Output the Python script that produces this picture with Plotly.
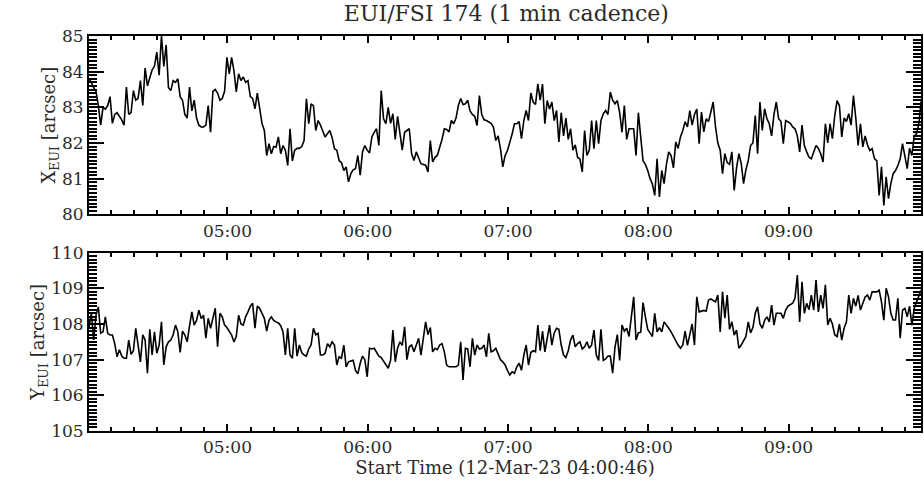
import pandas as pd
import plotly.graph_objects as go
from plotly.subplots import make_subplots

# Solar Orbiter EUI/FSI 174 pointing, one sample per minute from 04:00:46
START = "2023-03-12 04:00:46"
END = "2023-03-12 09:56:40"

x_eui = [
    83.80, 83.70, 83.55, 83.45, 83.05, 82.50, 83.00, 82.95, 83.05, 83.30,
    82.55, 82.80, 82.85, 82.75, 82.65, 82.50, 83.57, 82.80, 82.85, 83.47,
    83.20, 83.25, 83.75, 83.05, 84.10, 83.60, 83.85, 84.05, 84.15, 84.55,
    83.90, 85.00, 84.15, 84.75, 83.55, 83.47, 83.75, 83.70, 83.80, 83.30,
    83.20, 82.80, 82.70, 83.57, 82.90, 83.20, 82.70, 82.50, 82.45, 82.45,
    82.50, 83.05, 82.30, 83.45, 83.50, 83.40, 83.20, 83.25, 83.45, 84.40,
    83.94, 84.40, 84.03, 83.43, 83.94, 83.75, 83.85, 83.70, 83.75, 83.30,
    83.25, 82.96, 83.40, 82.91, 82.55, 82.35, 81.65, 81.98, 81.70, 81.90,
    81.88, 82.17, 81.70, 81.93, 81.80, 81.37, 82.40, 81.50, 81.80, 81.85,
    81.85, 81.90, 82.07, 83.24, 82.54, 83.10, 83.05, 82.35, 82.63, 82.50,
    82.35, 82.17, 82.26, 82.35, 82.15, 81.84, 81.80, 81.51, 81.45, 81.23,
    81.33, 80.91, 81.14, 81.25, 81.28, 81.65, 81.10, 81.75, 81.93, 81.80,
    81.72, 82.17, 82.30, 82.40, 81.93, 83.47, 82.68, 82.54, 83.00, 82.55,
    82.82, 82.10, 82.75, 82.26, 81.80, 82.30, 82.35, 82.40, 81.70, 81.51,
    81.75, 81.60, 81.42, 81.40, 81.38, 81.19, 82.07, 81.47, 81.60, 81.65,
    81.85, 82.10, 82.40, 82.38, 82.31, 82.63, 82.54, 82.70, 83.05, 83.25,
    83.08, 83.10, 83.20, 82.90, 82.80, 82.75, 82.49, 83.33, 82.80, 82.65,
    82.63, 82.60, 82.55, 82.45, 82.07, 82.20, 81.84, 81.33, 81.65, 81.79,
    82.00, 82.25, 82.54, 82.54, 82.60, 82.12, 82.63, 82.91, 82.63, 83.40,
    83.15, 83.08, 83.66, 83.20, 83.65, 82.54, 83.19, 82.95, 83.15, 82.63,
    82.91, 82.03, 82.85, 82.20, 82.70, 82.10, 82.40, 81.80, 81.95, 81.60,
    81.55, 81.19, 82.35, 81.65, 81.80, 82.63, 81.84, 82.63, 81.98, 82.63,
    82.82, 82.91, 82.80, 83.43, 83.20, 83.10, 83.19, 82.85, 82.30, 83.05,
    82.10, 82.40, 82.40, 82.40, 81.65, 82.85, 82.17, 81.50, 81.40, 81.23,
    81.00, 80.85, 80.53, 81.56, 80.49, 81.23, 80.86, 81.40, 81.75, 81.65,
    81.30, 82.03, 81.85, 82.17, 82.35, 82.60, 82.45, 82.91, 82.50, 82.80,
    82.95, 81.98, 82.87, 82.31, 82.68, 82.60, 82.87, 83.15, 82.45, 82.00,
    81.80, 81.14, 81.70, 81.45, 81.40, 81.75, 80.67, 81.30, 81.70, 81.42,
    80.86, 81.25, 81.50, 81.93, 82.00, 82.77, 81.70, 83.15, 82.35, 82.96,
    82.68, 82.54, 82.20, 82.80, 83.15, 82.68, 82.60, 81.98, 82.63, 82.60,
    82.55, 82.45, 82.40, 82.20, 81.75, 82.50, 81.93, 81.75, 81.60, 81.56,
    81.75, 81.93, 81.85, 81.70, 81.47, 82.54, 82.00, 82.54, 82.12, 82.77,
    83.19, 83.05, 82.17, 82.70, 82.60, 82.82, 82.50, 83.33, 82.70, 81.93,
    82.54, 81.89, 82.20, 81.95, 81.79, 81.84, 81.56, 81.50, 80.53, 81.33,
    80.25, 81.05, 80.44, 80.86, 81.14, 81.23, 81.37, 81.56, 81.98, 81.61,
    81.28, 81.85, 81.65, 82.20, 82.26, 82.55, 83.20,
]

y_eui = [
    107.90, 108.30, 107.55, 108.25, 108.48, 107.74, 107.78, 108.20, 107.74, 107.69,
    107.69, 107.45, 107.08, 107.28, 107.10, 107.04, 107.04, 107.55, 107.15, 107.25,
    107.88, 107.45, 106.94, 107.70, 107.55, 106.62, 107.85, 107.13, 107.78, 107.18,
    107.41, 108.06, 106.85, 107.36, 107.50, 107.55, 107.70, 107.97, 107.78, 107.20,
    107.80, 107.69, 107.50, 107.95, 108.34, 107.97, 108.10, 108.39, 108.15, 108.25,
    107.60, 108.16, 107.88, 108.16, 108.44, 107.36, 108.30, 108.20, 107.97, 107.90,
    107.80, 107.69, 107.50, 107.65, 108.25, 108.00, 107.97, 108.20, 108.34, 108.50,
    108.58, 107.88, 108.50, 108.44, 108.30, 108.16, 107.80, 108.10, 108.20, 108.10,
    108.06, 108.03, 107.95, 107.78, 107.13, 107.88, 107.13, 107.04, 107.88, 107.10,
    107.41, 107.20, 107.13, 107.10, 107.30, 107.41, 107.88, 107.70, 107.74, 107.13,
    107.13, 107.18, 107.45, 107.36, 107.50, 107.41, 106.85, 107.08, 107.04, 107.41,
    106.80, 106.94, 106.96, 106.98, 106.70, 106.60, 106.90, 107.10, 107.00, 106.52,
    107.32, 107.30, 107.32, 107.20, 107.10, 107.06, 106.95, 106.85, 106.76, 106.98,
    107.83, 106.94, 107.32, 107.50, 107.40, 107.92, 107.00, 107.36, 107.41, 107.22,
    107.41, 107.60, 107.13, 107.60, 108.06, 107.70, 107.90, 107.22, 107.32, 107.28,
    107.41, 107.45, 107.22, 106.85, 106.80, 106.80, 106.80, 106.80, 106.85, 107.50,
    106.43, 107.32, 107.30, 106.80, 107.60, 107.13, 107.41, 107.30, 107.32, 107.41,
    107.08, 107.74, 107.22, 107.25, 107.32, 107.18, 107.00, 106.94, 106.85, 106.70,
    106.57, 106.66, 106.62, 106.80, 106.90, 106.70, 107.13, 107.41, 106.85, 107.20,
    107.25, 107.22, 107.97, 107.25, 107.80, 107.22, 107.65, 107.97, 107.41, 107.75,
    107.88, 107.85, 107.41, 107.13, 107.06, 107.25, 107.55, 107.69, 107.36, 107.45,
    107.50, 107.30, 107.36, 107.50, 107.32, 107.41, 107.83, 107.13, 106.98, 107.85,
    106.98, 107.02, 107.10, 107.10, 106.62, 107.35, 107.70, 106.98, 107.97, 107.80,
    107.88, 107.65, 108.20, 108.76, 107.55, 107.75, 107.77, 108.60, 108.20, 107.85,
    107.75, 107.65, 108.30, 107.78, 107.90, 107.78, 108.06, 107.95, 107.88, 107.78,
    107.65, 107.55, 107.41, 107.32, 107.41, 107.80, 107.40, 107.70, 108.00, 107.41,
    108.76, 108.34, 108.35, 108.38, 108.36, 108.67, 108.70, 108.67, 108.62, 108.81,
    107.78, 108.90, 108.16, 108.81, 107.85, 108.06, 107.69, 107.83, 107.32, 107.41,
    107.55, 107.65, 108.06, 107.75, 107.90, 108.30, 108.48, 108.00, 107.88, 108.10,
    108.20, 108.06, 108.53, 107.97, 108.30, 108.30, 108.30, 108.16, 108.39, 108.50,
    108.53, 108.58, 108.72, 109.37, 108.06, 109.18, 108.30, 108.58, 108.40, 108.81,
    108.39, 109.23, 108.34, 108.81, 108.44, 109.10, 107.97, 108.16, 108.00, 107.70,
    107.65, 108.00, 107.55, 107.88, 108.06, 108.81, 108.30, 108.72, 108.50, 108.80,
    108.39, 108.60, 108.76, 108.81, 108.67, 108.90, 108.90, 108.90, 108.95, 108.62,
    108.11, 109.00, 108.76, 108.30, 108.11, 108.11, 108.72, 107.60, 108.39, 108.44,
    108.20, 108.50, 107.97, 108.44, 108.62, 108.81, 108.95,
]

x_ticks = [80, 81, 82, 83, 84, 85]
y_ticks = [105, 106, 107, 108, 109, 110]

TITLE = "EUI/FSI 174 (1 min cadence)"
X_LABEL = "X<sub>EUI</sub> [arcsec]"
Y_LABEL = "Y<sub>EUI</sub> [arcsec]"
T_LABEL = "Start Time (12-Mar-23 04:00:46)"

times = pd.date_range(START, periods=len(x_eui), freq="1min")
t_range = [pd.Timestamp(START), pd.Timestamp(END)]

FONT = "DejaVu Serif"
INK = "black"
TXT = "#2a2a2a"

fig = make_subplots(rows=2, cols=1, vertical_spacing=0.097)

fig.add_trace(go.Scatter(x=times, y=x_eui, mode="lines",
                         line=dict(color=INK, width=1.6), showlegend=False),
              row=1, col=1)
fig.add_trace(go.Scatter(x=times, y=y_eui, mode="lines",
                         line=dict(color=INK, width=1.6), showlegend=False),
              row=2, col=1)

# Hourly major ticks and 10-minute minor ticks, pointing inward on both edges
fig.update_xaxes(
    range=t_range, dtick=3600000, tickformat="%H:%M",
    ticks="inside", ticklen=7, tickwidth=2, tickcolor=INK,
    showline=True, linecolor=INK, linewidth=2, mirror="ticks",
    tickfont=dict(family=FONT, size=17, color=TXT),
    minor=dict(ticks="inside", ticklen=4, tickwidth=2, tickcolor=INK, dtick=600000),
)
fig.update_xaxes(title=dict(text=T_LABEL, font=dict(family=FONT, size=18, color=TXT),
                            standoff=4), row=2, col=1)

# Unit major ticks with a dense comb of minor ticks on the position axes
fig.update_yaxes(
    dtick=1, ticks="inside", ticklen=15, tickwidth=2, tickcolor=INK,
    showline=True, linecolor=INK, linewidth=2, mirror="ticks",
    tickfont=dict(family=FONT, size=17, color=TXT),
    minor=dict(ticks="inside", ticklen=8, tickwidth=1.5, tickcolor=INK, dtick=0.1),
)
fig.update_yaxes(range=[x_ticks[0], x_ticks[-1]],
                 title=dict(text=X_LABEL, font=dict(family=FONT, size=18, color=TXT),
                            standoff=0),
                 row=1, col=1)
fig.update_yaxes(range=[y_ticks[0], y_ticks[-1]],
                 title=dict(text=Y_LABEL, font=dict(family=FONT, size=18, color=TXT),
                            standoff=0),
                 row=2, col=1)

fig.update_layout(
    template="simple_white",
    width=924, height=490,
    margin=dict(l=89, r=1, t=36, b=59),
    title=dict(text=TITLE, x=0.548, xanchor="center", y=0.972, yanchor="middle",
               font=dict(family=FONT, size=22, color=TXT)),
)

fig.write_html("out.html")
